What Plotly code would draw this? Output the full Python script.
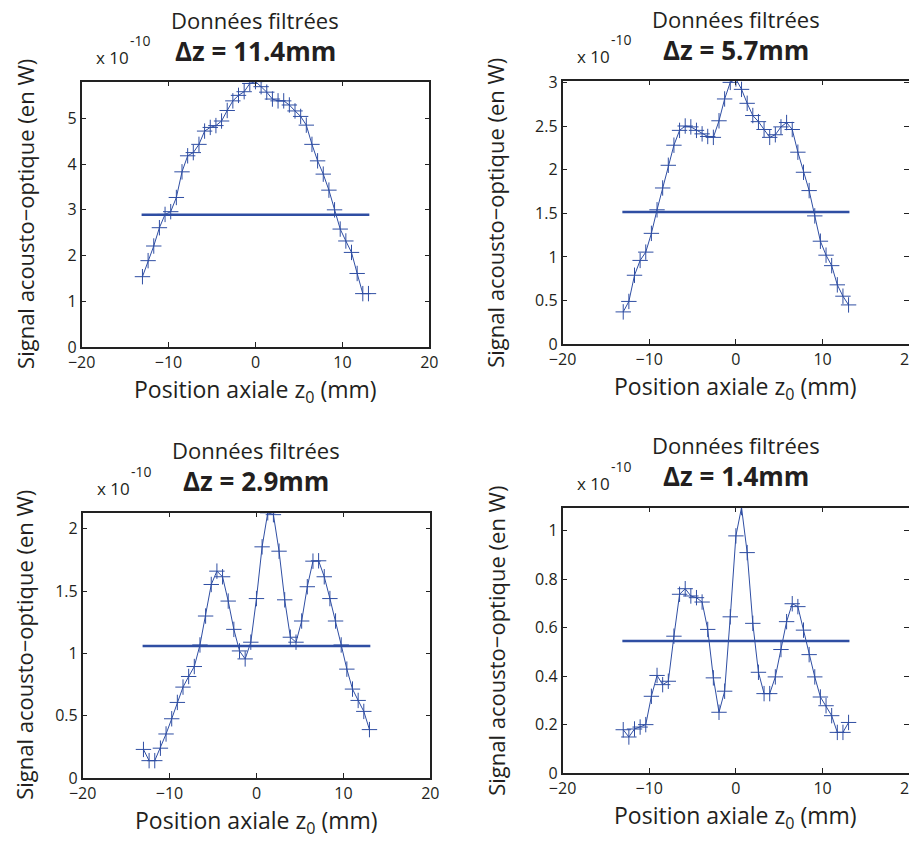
import plotly.graph_objects as go

# ---------------- data ----------------
z_mm = [-13.0, -12.35, -11.7, -11.05, -10.4, -9.75, -9.1, -8.45, -7.8, -7.15,
        -6.5, -5.85, -5.2, -4.55, -3.9, -3.25, -2.6, -1.95, -1.3, -0.65,
        0.0, 0.65, 1.3, 1.95, 2.6, 3.25, 3.9, 4.55, 5.2, 5.85,
        6.5, 7.15, 7.8, 8.45, 9.1, 9.75, 10.4, 11.05, 11.7, 12.35, 13.0]

signal_dz_11_4 = [1.54, 1.89, 2.21, 2.61, 2.90, 2.96, 3.27, 3.83, 4.18, 4.25,
                  4.43, 4.72, 4.80, 4.84, 4.94, 5.17, 5.38, 5.50, 5.58, 5.76,
                  5.80, 5.69, 5.57, 5.42, 5.38, 5.38, 5.29, 5.16, 5.04, 4.85,
                  4.43, 4.07, 3.78, 3.43, 3.00, 2.58, 2.32, 2.07, 1.61, 1.17, 1.17]

signal_dz_5_7 = [0.37, 0.49, 0.79, 0.96, 1.055, 1.27, 1.54, 1.79, 2.05, 2.28,
                 2.45, 2.50, 2.49, 2.45, 2.41, 2.38, 2.37, 2.56, 2.81, 3.00,
                 3.04, 2.92, 2.76, 2.62, 2.55, 2.46, 2.37, 2.40, 2.49, 2.54,
                 2.46, 2.20, 1.97, 1.76, 1.47, 1.18, 1.02, 0.90, 0.68, 0.55, 0.45]

signal_dz_2_9 = [0.23, 0.14, 0.14, 0.24, 0.354, 0.476, 0.607, 0.73, 0.815, 0.895,
                 1.068, 1.30, 1.553, 1.66, 1.615, 1.42, 1.193, 1.02, 0.956, 1.09,
                 1.44, 1.855, 2.128, 2.113, 1.82, 1.43, 1.13, 1.09, 1.26, 1.535,
                 1.74, 1.743, 1.615, 1.44, 1.26, 1.068, 0.874, 0.714, 0.623, 0.535, 0.389]

signal_dz_1_4 = [0.179, 0.149, 0.182, 0.19, 0.20, 0.317, 0.403, 0.365, 0.379, 0.565,
                 0.738, 0.761, 0.731, 0.724, 0.706, 0.593, 0.393, 0.251, 0.338, 0.645,
                 0.979, 1.096, 0.91, 0.618, 0.416, 0.328, 0.328, 0.397, 0.51, 0.625,
                 0.699, 0.687, 0.59, 0.489, 0.397, 0.314, 0.278, 0.237, 0.168, 0.168, 0.209]

half_levels = [2.89, 1.515, 1.06, 0.545]
half_line_z = [-13.1, 13.1]

dz_titles = ["Δz = 11.4mm", "Δz = 5.7mm", "Δz = 2.9mm", "Δz = 1.4mm"]
y_max = [5.80, 3.02, 2.13, 1.096]
y_dtick = [1, 0.5, 0.5, 0.2]
x_ticks = [-20, -10, 0, 10, 20]

series = [signal_dz_11_4, signal_dz_5_7, signal_dz_2_9, signal_dz_1_4]

# ---------------- layout geometry (target pixels in the picture) ----------------
W, H = 917, 842
# calibration of the rendered page: picture = SC * figure + OFF
SC = 0.973
OFF_X, OFF_Y = 21.5, 20.5

panels = [
    dict(x0=81, x1=428, y0=84, y1=349, ytx=25),
    dict(x0=561, x1=907, y0=83, y1=346, ytx=494),
    dict(x0=82, x1=429, y0=514, y1=779, ytx=24),
    dict(x0=561, x1=907, y0=509, y1=774, ytx=495),
]

def px(x):
    return ((x - OFF_X) / SC) / W

def py(y):
    return 1 - ((y - OFF_Y) / SC) / H

BLUE = "#2f4ea3"
TXT = "#231f20"
FONT = "Open Sans"

fig = go.Figure()
annotations = []
layout_axes = {}

for i, p in enumerate(panels):
    n = "" if i == 0 else str(i + 1)
    xa, ya = "x" + n, "y" + n
    fig.add_trace(go.Scatter(
        x=z_mm, y=series[i], mode="lines+markers",
        line=dict(color=BLUE, width=1),
        marker=dict(symbol="cross-thin", size=11, line=dict(color=BLUE, width=1)),
        xaxis=xa, yaxis=ya, showlegend=False, hoverinfo="skip"))
    fig.add_trace(go.Scatter(
        x=half_line_z, y=[half_levels[i]] * 2, mode="lines",
        line=dict(color=BLUE, width=2.5),
        xaxis=xa, yaxis=ya, showlegend=False, hoverinfo="skip"))

    common = dict(showline=True, linecolor="#222", linewidth=1.5, mirror="allticks",
                  ticks="inside", ticklen=5, tickcolor="#222", tickwidth=1,
                  showgrid=False, zeroline=False,
                  tickfont=dict(family=FONT, size=16, color=TXT))
    layout_axes["xaxis" + n] = dict(domain=[px(p["x0"]), px(p["x1"])], anchor=ya,
                                    range=[-20, 20], tickvals=x_ticks, **common)
    layout_axes["yaxis" + n] = dict(domain=[py(p["y1"]), py(p["y0"])], anchor=xa,
                                    range=[0, y_max[i]], dtick=y_dtick[i], tick0=0,
                                    **common)

    cx = (p["x0"] + p["x1"]) / 2
    annotations += [
        dict(text="Données filtrées", x=px(cx), y=py(p["y0"] - 62),
             font=dict(family=FONT, size=22, color=TXT)),
        dict(text="<b>" + dz_titles[i] + "</b>", x=px(cx), y=py(p["y0"] - 31),
             font=dict(family=FONT, size=26, color=TXT)),
        dict(text="x 10", x=px(p["x0"] + 12), y=py(p["y0"] - 24), xanchor="left",
             font=dict(family=FONT, size=17, color=TXT)),
        dict(text="-10", x=px(p["x0"] + 46), y=py(p["y0"] - 41), xanchor="left",
             font=dict(family=FONT, size=14, color=TXT)),
        dict(text="Signal acousto−optique (en W)", x=px(p["ytx"]),
             y=py((p["y0"] + p["y1"]) / 2), textangle=-90,
             font=dict(family=FONT, size=22, color=TXT)),
        dict(text="Position axiale z<sub>0</sub> (mm)", x=px(cx), y=py(p["y1"] + 43),
             font=dict(family=FONT, size=23, color=TXT)),
    ]

for a in annotations:
    a.update(xref="paper", yref="paper", showarrow=False)
    a.setdefault("xanchor", "center")
    a.setdefault("yanchor", "middle")

fig.update_layout(
    width=W, height=H,
    margin=dict(l=0, r=0, t=0, b=0),
    paper_bgcolor="white", plot_bgcolor="white",
    annotations=annotations,
    **layout_axes,
)

fig.write_html("out.html")
